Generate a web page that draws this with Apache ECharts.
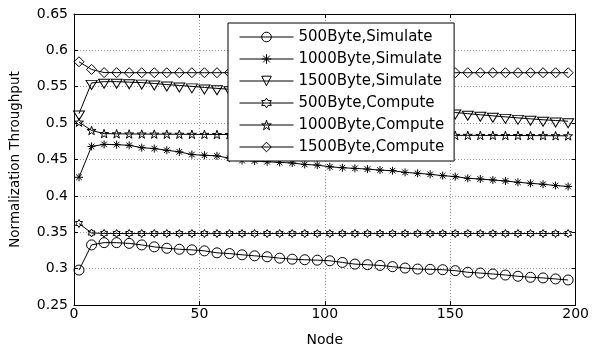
<!DOCTYPE html>
<html>
<head>
<meta charset="utf-8">
<script src="https://cdn.jsdelivr.net/npm/echarts@6/dist/echarts.min.js"></script>
<style>
html,body{margin:0;padding:0;background:#fff;}
#chart{width:592px;height:352px;}
</style>
</head>
<body>
<div id="chart"></div>
<script>
// ---- data ----
const nodes = [2,7,12,17,22,27,32,37,42,47,52,57,62,67,72,77,82,87,92,97,102,107,112,117,122,127,132,137,142,147,152,157,162,167,172,177,182,187,192,197];
const sim500 = [0.298,0.3326,0.3357,0.3357,0.3347,0.3326,0.3299,0.328,0.3266,0.3258,0.3244,0.3217,0.3207,0.319,0.3176,0.3163,0.3144,0.313,0.3122,0.3116,0.3108,0.3085,0.3062,0.3054,0.3044,0.3027,0.3008,0.2994,0.299,0.2985,0.2972,0.295,0.2939,0.2926,0.2912,0.2895,0.2881,0.2872,0.2858,0.2844];
const sim1000 = [0.4255,0.468,0.4708,0.4704,0.4695,0.4663,0.465,0.4627,0.4605,0.4568,0.4558,0.455,0.4518,0.4486,0.448,0.4469,0.446,0.4452,0.4432,0.4423,0.44,0.4387,0.4378,0.4368,0.4354,0.4346,0.4323,0.431,0.4296,0.4278,0.4265,0.4241,0.4232,0.4218,0.4205,0.4187,0.4173,0.416,0.4142,0.4129];
const sim1500 = [0.5131,0.5553,0.557,0.557,0.5563,0.5557,0.5545,0.553,0.5518,0.5505,0.549,0.5478,0.5465,0.5447,0.543,0.5412,0.5394,0.5376,0.5359,0.5341,0.5323,0.5305,0.5288,0.527,0.5252,0.5235,0.5217,0.5199,0.5181,0.5164,0.5146,0.513,0.5115,0.51,0.5086,0.5072,0.5059,0.5046,0.5036,0.5026];
const com500 = [0.362,0.349,0.3484,0.3483,0.3483,0.3482,0.3482,0.3482,0.3482,0.3482,0.3482,0.3482,0.3482,0.3482,0.3482,0.3482,0.3482,0.3482,0.3482,0.3482,0.3482,0.3482,0.3482,0.3482,0.3482,0.3482,0.3482,0.3482,0.3482,0.3482,0.3482,0.3482,0.3482,0.3482,0.3482,0.3482,0.3482,0.3482,0.3482,0.3482];
const com1000 = [0.5013,0.4899,0.4856,0.4853,0.4851,0.485,0.4849,0.4848,0.4847,0.4846,0.4845,0.4844,0.4843,0.4842,0.4842,0.4841,0.484,0.484,0.4839,0.4838,0.4838,0.4837,0.4836,0.4836,0.4835,0.4835,0.4834,0.4834,0.4833,0.4833,0.4832,0.4832,0.4831,0.4831,0.483,0.483,0.4829,0.4828,0.4827,0.4825];
const com1500 = [0.5843,0.5738,0.5695,0.5694,0.5693,0.5693,0.5693,0.5693,0.5693,0.5693,0.5693,0.5693,0.5693,0.5693,0.5693,0.5693,0.5693,0.5693,0.5693,0.5693,0.5693,0.5693,0.5693,0.5693,0.5693,0.5693,0.5693,0.5693,0.5693,0.5693,0.5693,0.5693,0.5693,0.5693,0.5693,0.5693,0.5693,0.5693,0.5693,0.5693];
const seriesNames = ['500Byte,Simulate','1000Byte,Simulate','1500Byte,Simulate','500Byte,Compute','1000Byte,Compute','1500Byte,Compute'];
const xTicks = [0,50,100,150,200];
const yTicks = ['0.25','0.3','0.35','0.4','0.45','0.5','0.55','0.6','0.65'];
const xLabel = 'Node';
const yLabel = 'Normalization Throughput';

// ---- marker shapes ----
function starPath(points, inner) {
  const n = points * 2;
  let d = '';
  for (let i = 0; i < n; i++) {
    const a = (-90 + 180 / points * i) * Math.PI / 180;
    const r = (i % 2 === 0) ? 10 : 10 * inner;
    const x = (10 + r * Math.cos(a)).toFixed(3);
    const y = (10 + r * Math.sin(a)).toFixed(3);
    d += (i === 0 ? 'M' : 'L') + x + ',' + y;
  }
  return 'path://' + d + 'Z';
}
const pentagram = starPath(5, 0.382);
const hexagram = starPath(6, 0.577);
const asterisk = 'path://M5,0L5,10M0,5L10,5M1.5,1.5L8.5,8.5M1.5,8.5L8.5,1.5';
const triDown = 'path://M0,0L10,0L5,9Z';

const datasets = [sim500, sim1000, sim1500, com500, com1000, com1500];
const symbols = ['circle', asterisk, triDown, hexagram, pentagram, 'diamond'];
const sizes = [10, 8, [11, 10], 8, 9, [10, 10]];
const offsets = [[0,0],[0,0],[0,2],[0,0],[0,0],[0,0]];

const FONT = 'DejaVu Sans';
const CLEAR = 'rgba(0,0,0,0)';

const series = datasets.map((arr, k) => ({
  name: seriesNames[k],
  type: 'line',
  xAxisIndex: 0,
  yAxisIndex: 0,
  data: nodes.map((n, i) => [n, arr[i]]),
  symbol: symbols[k],
  symbolSize: sizes[k],
  symbolOffset: offsets[k],
  symbolKeepAspect: true,
  showAllSymbol: true,
  lineStyle: { color: '#000', width: 1 },
  itemStyle: { color: CLEAR, borderColor: '#000', borderWidth: 1 },
  emphasis: { disabled: true },
  animation: false,
  z: 2
}));

const yMin = parseFloat(yTicks[0]);
const yMax = parseFloat(yTicks[yTicks.length - 1]);
const yInt = 0.05;

const chart = echarts.init(document.getElementById('chart'), null, { renderer: 'canvas' });
chart.setOption({
  backgroundColor: '#fff',
  animation: false,
  grid: { left: 73, right: 15, top: 14, bottom: 44, containLabel: false },
  legend: {
    data: seriesNames,
    orient: 'vertical',
    left: 228,
    top: 23,
    padding: [6, 10, 6, 11],
    itemWidth: 54,
    itemHeight: 12,
    itemGap: 6,
    backgroundColor: '#fff',
    borderColor: '#000',
    borderWidth: 1,
    selectedMode: false,
    itemStyle: { color: CLEAR, borderColor: '#000', borderWidth: 1 },
    lineStyle: { color: '#000', width: 1 },
    textStyle: { fontFamily: FONT, fontSize: 15, color: '#000', lineHeight: 16 },
    z: 10
  },
  xAxis: [{
    type: 'value', position: 'bottom', min: xTicks[0], max: xTicks[xTicks.length - 1], interval: 50,
    name: xLabel, nameLocation: 'middle', nameGap: 28,
    nameTextStyle: { fontFamily: FONT, fontSize: 14, color: '#000' },
    axisLine: { show: true, onZero: false, lineStyle: { color: '#000', width: 1 } },
    axisTick: { show: true, inside: true, length: 4, lineStyle: { color: '#000' } },
    axisLabel: { fontFamily: FONT, fontSize: 14, color: '#000', margin: 2 },
    splitLine: { show: true, lineStyle: { color: '#9a9a9a', type: [1, 2], width: 1 } }
  }, {
    type: 'value', position: 'top', min: xTicks[0], max: xTicks[xTicks.length - 1], interval: 50,
    axisLine: { show: true, onZero: false, lineStyle: { color: '#000', width: 1 } },
    axisTick: { show: true, inside: true, length: 4, lineStyle: { color: '#000' } },
    axisLabel: { show: false },
    splitLine: { show: false }
  }],
  yAxis: [{
    type: 'value', position: 'left', min: yMin, max: yMax, interval: yInt,
    name: yLabel, nameLocation: 'middle', nameGap: 52, nameRotate: 90,
    nameTextStyle: { fontFamily: FONT, fontSize: 13.5, color: '#000' },
    axisLine: { show: true, onZero: false, lineStyle: { color: '#000', width: 1 } },
    axisTick: { show: true, inside: true, length: 4, lineStyle: { color: '#000' } },
    axisLabel: { fontFamily: FONT, fontSize: 14, color: '#000', margin: 6,
      formatter: function (v) { const idx = Math.round((v - yMin) / yInt); return yTicks[idx] !== undefined ? yTicks[idx] : ''; } },
    splitLine: { show: true, lineStyle: { color: '#9a9a9a', type: [1, 2], width: 1 } }
  }, {
    type: 'value', position: 'right', min: yMin, max: yMax, interval: yInt,
    axisLine: { show: true, onZero: false, lineStyle: { color: '#000', width: 1 } },
    axisTick: { show: true, inside: true, length: 4, lineStyle: { color: '#000' } },
    axisLabel: { show: false },
    splitLine: { show: false }
  }],
  series: series
});
</script>
</body>
</html>
